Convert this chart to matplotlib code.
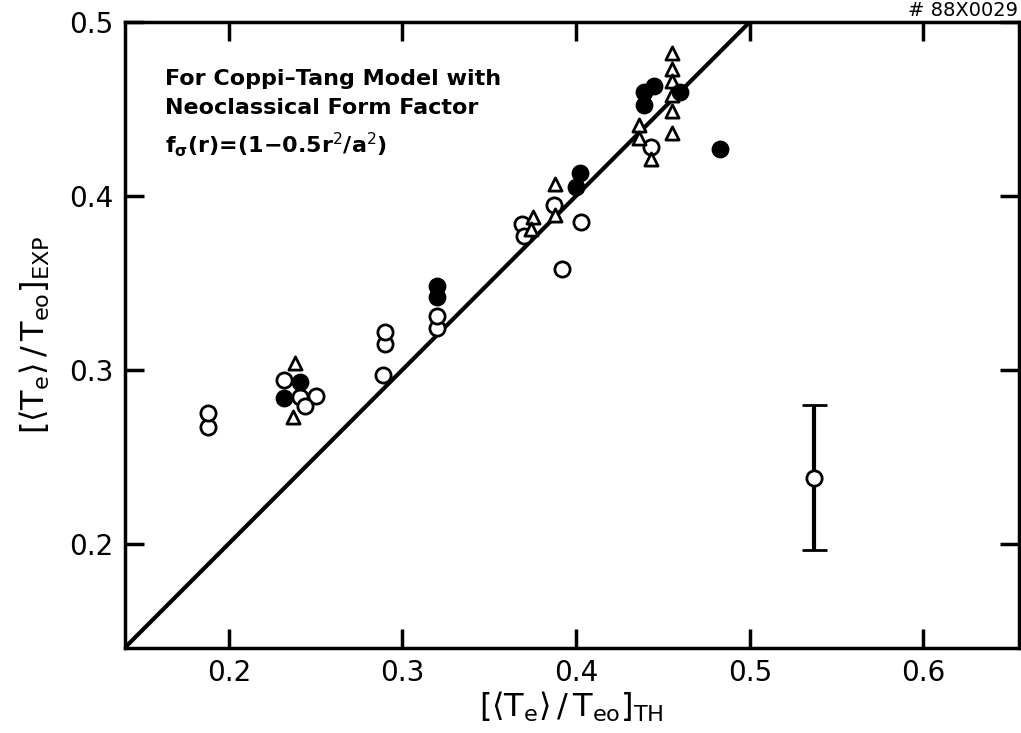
import matplotlib.pyplot as plt
import numpy as np

# open circles
open_x = [0.188, 0.188, 0.232, 0.241, 0.250, 0.244, 0.289, 0.290, 0.290,
          0.320, 0.320, 0.369, 0.370, 0.387, 0.392, 0.403, 0.443]
open_y = [0.267, 0.275, 0.294, 0.2845, 0.285, 0.279, 0.297, 0.315, 0.322,
          0.324, 0.331, 0.384, 0.377, 0.395, 0.358, 0.385, 0.428]

# filled circles
fill_x = [0.232, 0.241, 0.320, 0.320, 0.400, 0.402, 0.439, 0.439, 0.445, 0.460, 0.483]
fill_y = [0.284, 0.293, 0.342, 0.348, 0.405, 0.413, 0.452, 0.460, 0.463, 0.460, 0.427]

# triangles
tri_x = [0.238, 0.237, 0.375, 0.374, 0.388, 0.388, 0.436, 0.436, 0.443,
         0.455, 0.455, 0.455, 0.455, 0.455, 0.455]
tri_y = [0.304, 0.273, 0.388, 0.381, 0.389, 0.407, 0.441, 0.433, 0.421,
         0.482, 0.473, 0.466, 0.458, 0.449, 0.436]

# typical error bar
err_x = 0.537
err_y = 0.238
err_lo = 0.1965
err_hi = 0.280

xticks = [0.2, 0.3, 0.4, 0.5, 0.6]
yticks = [0.2, 0.3, 0.4, 0.5]

fig = plt.figure(figsize=(10.21, 7.33), dpi=100)
ax = fig.add_axes([0.122, 0.116, 0.876, 0.854])

line = np.array([0.1, 0.7])
ax.plot(line, line, color='black', lw=3, zorder=1)

ax.errorbar([err_x], [err_y], yerr=[[err_y - err_lo], [err_hi - err_y]],
            fmt='o', mfc='white', mec='black', mew=2, ms=11, ecolor='black',
            elinewidth=3, capsize=9, capthick=3, zorder=3)

ax.scatter(open_x, open_y, s=120, facecolors='white', edgecolors='black',
           linewidths=2, zorder=3)
ax.scatter(fill_x, fill_y, s=140, color='black', zorder=4)
ax.scatter(tri_x, tri_y, s=90, marker='^', facecolors='white', edgecolors='black',
           linewidths=2, zorder=3)

ax.set_xlim(0.14, 0.655)
ax.set_ylim(0.14, 0.5)
ax.set_xticks(xticks)
ax.set_yticks(yticks)
ax.set_xticklabels(['%.1f' % v for v in xticks])
ax.set_yticklabels(['%.1f' % v for v in yticks])
ax.tick_params(direction='in', length=14, width=2.5, labelsize=20,
               top=True, right=True, pad=8)
for s in ax.spines.values():
    s.set_linewidth(2.5)

ax.set_xlabel(r'$\left[\langle \mathrm{T_e}\rangle\,/\,\mathrm{T_{eo}}\right]_{\mathrm{TH}}$',
              fontsize=23, labelpad=2)
ax.set_ylabel(r'$\left[\langle \mathrm{T_e}\rangle\,/\,\mathrm{T_{eo}}\right]_{\mathrm{EXP}}$',
              fontsize=23, labelpad=12)

ax.text(0.045, 0.925,
        'For Coppi\u2013Tang Model with\nNeoclassical Form Factor\n'
        r'$\mathbf{f_{\sigma}(r)}$' + '=(1\u22120.5r$^2$/a$^2$)',
        transform=ax.transAxes, fontsize=16, fontweight='bold',
        va='top', ha='left', linespacing=1.55)

fig.text(0.997, 0.999, '# 88X0029', fontsize=14, va='top', ha='right')

fig.savefig('out.png', dpi=100)
